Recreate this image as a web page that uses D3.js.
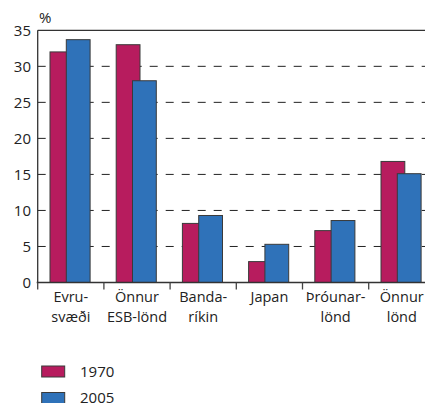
<!DOCTYPE html>
<html lang="is">
<head>
<meta charset="UTF-8">
<title>Útflutningur eftir svæðum</title>
<style>
    body { margin: 0; background: #fff; }
    svg { display: block; font-family: "Open Sans", "Noto Sans", sans-serif; }
</style>
</head>
<script src="https://cdn.jsdelivr.net/npm/d3@7"></script>
<body>
<script>
    // gögn lesin af myndinni
    var categories = [["Evru-", "svæði"], ["Önnur", "ESB-lönd"], ["Banda-", "ríkin"], ["Japan"], ["Þróunar-", "lönd"], ["Önnur", "lönd"]];
    var series = ["1970", "2005"];
    var values1970 = [32.0, 33.0, 8.2, 2.9, 7.2, 16.8];
    var values2005 = [33.7, 28.0, 9.3, 5.3, 8.6, 15.1];
    var yTicks = [0, 5, 10, 15, 20, 25, 30, 35];
    var colors = ["#b71c5e", "#2f72b9"];

    var width = 425, height = 403;
    var plotLeft = 37.7, plotTop = 30.3, plotBottom = 282.5, step = 66.2;

    var svg = d3.select("body").append("svg")
        .attr("width", width)
        .attr("height", height);

    var x0 = d3.scaleBand()
        .domain(d3.range(categories.length))
        .range([plotLeft, plotLeft + step * categories.length])
        .padding(0);
    var x1 = d3.scaleBand()
        .domain(series)
        .range([12.3, 44.9]);
    var barW = 23.8;
    var y = d3.scaleLinear().domain([0, 35]).range([plotBottom, plotTop]);

    // brotalínur
    svg.append("g").selectAll("line")
        .data(yTicks.filter(function (d) { return d > 0 && d < 35; }))
        .enter().append("line")
        .attr("x1", plotLeft).attr("x2", width)
        .attr("y1", function (d) { return y(d); })
        .attr("y2", function (d) { return y(d); })
        .attr("stroke", "#222")
        .attr("stroke-width", 1)
        .attr("stroke-dasharray", "8,8");

    // súlur
    var rows = [values1970, values2005];
    rows.forEach(function (vals, s) {
        svg.append("g").selectAll("rect")
            .data(vals)
            .enter().append("rect")
            .attr("x", function (d, i) { return x0(i) + x1(series[s]); })
            .attr("y", function (d) { return y(d); })
            .attr("width", barW)
            .attr("height", function (d) { return plotBottom - y(d); })
            .attr("fill", colors[s])
            .attr("stroke", "#3a3a3a")
            .attr("stroke-width", 1);
    });

    // ásar
    svg.append("line")
        .attr("x1", plotLeft).attr("x2", width)
        .attr("y1", plotTop).attr("y2", plotTop)
        .attr("stroke", "#333").attr("stroke-width", 1.3);
    svg.append("line")
        .attr("x1", plotLeft).attr("x2", plotLeft)
        .attr("y1", plotTop).attr("y2", plotBottom)
        .attr("stroke", "#333").attr("stroke-width", 1.3);
    svg.append("line")
        .attr("x1", plotLeft - 1).attr("x2", width)
        .attr("y1", plotBottom).attr("y2", plotBottom)
        .attr("stroke", "#333").attr("stroke-width", 1.3);

    // merki milli flokka
    svg.append("g").selectAll("line")
        .data(d3.range(categories.length))
        .enter().append("line")
        .attr("x1", function (d) { return x0(d); })
        .attr("x2", function (d) { return x0(d); })
        .attr("y1", plotBottom).attr("y2", plotBottom + 7)
        .attr("stroke", "#444").attr("stroke-width", 1.3);

    // y-ás texti
    svg.append("g").selectAll("text")
        .data(yTicks)
        .enter().append("text")
        .attr("x", 31)
        .attr("y", function (d) { return y(d); })
        .attr("dy", "0.35em")
        .attr("text-anchor", "end")
        .attr("font-size", 15)
        .attr("fill", "#222")
        .text(function (d) { return d; });

    svg.append("text")
        .attr("x", 39).attr("y", 23)
        .attr("font-size", 15)
        .attr("fill", "#222")
        .text("%");

    // flokkaheiti
    var labels = svg.append("g").selectAll("text")
        .data(categories)
        .enter().append("text")
        .attr("text-anchor", "middle")
        .attr("font-size", 14.5)
        .attr("fill", "#222");
    labels.selectAll("tspan")
        .data(function (d, i) { return d.map(function (t) { return {t: t, i: i}; }); })
        .enter().append("tspan")
        .attr("x", function (d) { return x0(d.i) + x0.bandwidth() / 2; })
        .attr("y", function (d, j) { return 302 + j * 20; })
        .text(function (d) { return d.t; });

    // skýringar
    series.forEach(function (s, i) {
        var ly = 366 + i * 26.5;
        svg.append("rect")
            .attr("x", 41.7).attr("y", ly)
            .attr("width", 23).attr("height", 11)
            .attr("fill", colors[i])
            .attr("stroke", "#3a3a3a").attr("stroke-width", 1);
        svg.append("text")
            .attr("x", 80).attr("y", ly + 5.5)
            .attr("dy", "0.35em")
            .attr("font-size", 15)
            .attr("fill", "#222")
            .text(s);
    });
</script>
</body>
</html>
